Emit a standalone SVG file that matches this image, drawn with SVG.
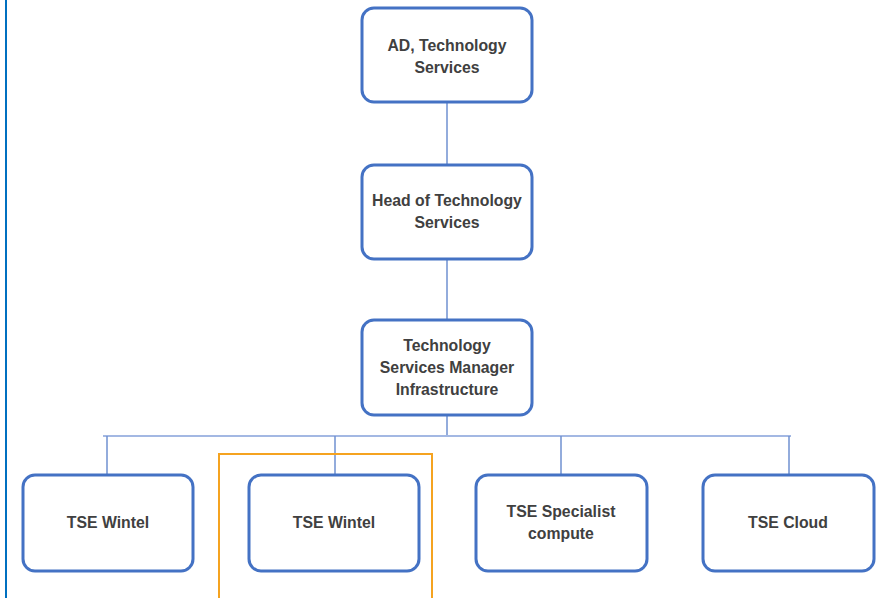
<svg xmlns="http://www.w3.org/2000/svg" width="881" height="598" viewBox="0 0 881 598">
<style>
.box{fill:#ffffff;stroke:#4472C4;stroke-width:3}
.lbl{font-family:"Liberation Sans",Arial,sans-serif;font-weight:bold;font-size:15.8px;fill:#404040;text-anchor:middle}
.con{stroke:#6F90D0;stroke-width:1.5;fill:none}
</style>
<rect x="0" y="0" width="881" height="598" fill="#ffffff"/>
<line x1="6" y1="0" x2="6" y2="598" stroke="#0070C0" stroke-width="2"/>
<g id="connectors">
<line class="con" x1="447" y1="102" x2="447" y2="165"/>
<line class="con" x1="447" y1="259" x2="447" y2="320"/>
<line class="con" x1="447" y1="415" x2="447" y2="436"/>
<line x1="103" y1="436" x2="791" y2="436" stroke="#A3B8E3" stroke-width="2"/>
<line class="con" x1="107" y1="436" x2="107" y2="475"/>
<line class="con" x1="335" y1="436" x2="335" y2="475"/>
<line class="con" x1="561" y1="436" x2="561" y2="475"/>
<line class="con" x1="789" y1="436" x2="789" y2="475"/>
</g>
<g id="node-ad">
<rect class="box" x="362" y="8" width="170" height="94" rx="12"/>
<text class="lbl" x="447" y="51">AD, Technology</text>
<text class="lbl" x="447" y="73">Services</text>
</g>
<g id="node-head">
<rect class="box" x="362" y="165" width="170" height="94" rx="12"/>
<text class="lbl" x="447" y="206">Head of Technology</text>
<text class="lbl" x="447" y="228">Services</text>
</g>
<g id="node-tsm">
<rect class="box" x="362" y="320" width="170" height="95" rx="12"/>
<text class="lbl" x="447" y="351">Technology</text>
<text class="lbl" x="447" y="373">Services Manager</text>
<text class="lbl" x="447" y="395">Infrastructure</text>
</g>
<g id="node-wintel1">
<rect class="box" x="23" y="475" width="170" height="96" rx="12"/>
<text class="lbl" x="108" y="528">TSE Wintel</text>
</g>
<g id="node-wintel2">
<rect class="box" x="249" y="475" width="170" height="96" rx="12"/>
<text class="lbl" x="334" y="528">TSE Wintel</text>
</g>
<g id="node-specialist">
<rect class="box" x="476" y="475" width="171" height="96" rx="12"/>
<text class="lbl" x="561" y="517">TSE Specialist</text>
<text class="lbl" x="561" y="539">compute</text>
</g>
<g id="node-cloud">
<rect class="box" x="703" y="475" width="171" height="96" rx="12"/>
<text class="lbl" x="788" y="528">TSE Cloud</text>
</g>
<rect id="highlight" x="219" y="454" width="213" height="160" fill="none" stroke="#F5A320" stroke-width="2"/>
</svg>
